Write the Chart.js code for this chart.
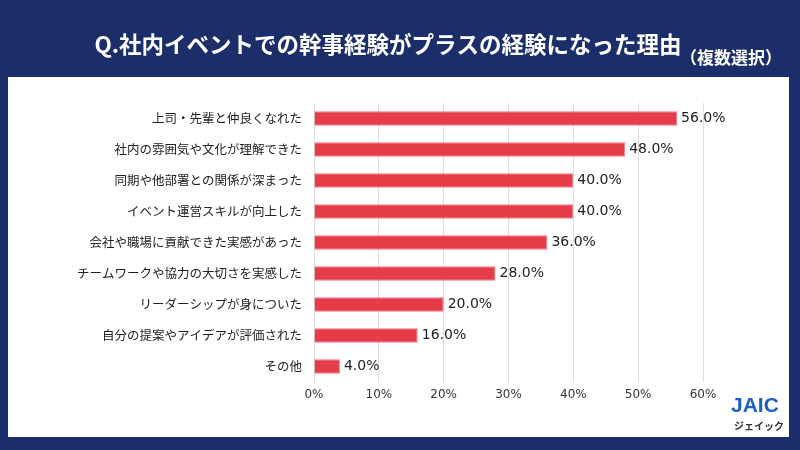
<!DOCTYPE html>
<html>
<head>
<meta charset="utf-8">
<script src="https://cdn.jsdelivr.net/npm/chart.js@4"></script>
<style>
  html, body { margin: 0; padding: 0; background: #1c2e69; }
  #wrap { width: 800px; height: 450px; }
</style>
</head>
<body>
<div id="wrap"><canvas id="reason-chart" width="800" height="450"></canvas></div>
<script>
// 理由ごとの回答割合 (%)
const reasons = [
  "上司・先輩と仲良くなれた",
  "社内の雰囲気や文化が理解できた",
  "同期や他部署との関係が深まった",
  "イベント運営スキルが向上した",
  "会社や職場に貢献できた実感があった",
  "チームワークや協力の大切さを実感した",
  "リーダーシップが身についた",
  "自分の提案やアイデアが評価された",
  "その他"
];
const shares = [56, 48, 40, 40, 36, 28, 20, 16, 4];
const xTicks = [0, 10, 20, 30, 40, 50, 60];

const FONT = "'Noto Sans CJK JP', 'Noto Sans', sans-serif";
const NUM_FONT = "'DejaVu Sans', sans-serif";

// 白いパネル・タイトル・ロゴ
const framePlugin = {
  id: "frame",
  beforeDraw(chart) {
    const { ctx } = chart;
    ctx.save();
    ctx.fillStyle = "#1c2e69";
    ctx.fillRect(0, 0, 800, 450);
    ctx.fillStyle = "#ffffff";
    ctx.fillRect(8, 77, 781, 360);
    ctx.restore();
  },
  afterDraw(chart) {
    const { ctx } = chart;
    ctx.save();
    ctx.fillStyle = "#ffffff";
    ctx.textBaseline = "middle";
    ctx.textAlign = "center";
    ctx.font = "bold 22.5px " + FONT;
    ctx.fillText("Q.社内イベントでの幹事経験がプラスの経験になった理由", 388, 44);
    ctx.textAlign = "right";
    ctx.font = "bold 17px " + FONT;
    ctx.fillText("（複数選択）", 782, 58);

    // ロゴ
    ctx.textAlign = "left";
    ctx.fillStyle = "#1f5fc4";
    ctx.font = "bold 21px 'Liberation Sans', sans-serif";
    ctx.fillText("JAIC", 731, 406);
    ctx.fillStyle = "#333333";
    ctx.font = "bold 10px " + FONT;
    ctx.fillText("ジェイック", 734, 426);
    ctx.restore();
  }
};

// バー右側の数値ラベル
const valueLabelPlugin = {
  id: "valueLabels",
  afterDatasetsDraw(chart) {
    const { ctx } = chart;
    const meta = chart.getDatasetMeta(0);
    ctx.save();
    ctx.font = "14px " + NUM_FONT;
    ctx.fillStyle = "#222222";
    ctx.textAlign = "left";
    ctx.textBaseline = "middle";
    meta.data.forEach((bar, i) => {
      ctx.fillText(shares[i].toFixed(1) + "%", bar.x + 4, bar.y);
    });
    ctx.restore();
  }
};

new Chart(document.getElementById("reason-chart"), {
  type: "bar",
  data: {
    labels: reasons,
    datasets: [{
      data: shares,
      backgroundColor: "#e63c48",
      borderColor: "#f07a82",
      borderWidth: 1,
      categoryPercentage: 1,
      barPercentage: 0.46
    }]
  },
  options: {
    indexAxis: "y",
    responsive: false,
    animation: false,
    layout: { padding: { top: 103, left: 8, right: 97, bottom: 43 } },
    plugins: {
      legend: { display: false },
      tooltip: { enabled: false }
    },
    scales: {
      x: {
        min: 0,
        max: 60,
        afterBuildTicks(axis) { axis.ticks = xTicks.map(v => ({ value: v })); },
        afterFit(axis) { axis.height = 25; },
        grid: { color: "#dddddd", drawTicks: false },
        border: { display: false },
        ticks: {
          padding: 6,
          color: "#333333",
          font: { size: 12, family: NUM_FONT },
          callback: v => v + "%"
        }
      },
      y: {
        afterFit(axis) { axis.width = 306; },
        grid: { display: false },
        border: { color: "#dddddd" },
        ticks: {
          padding: 4,
          color: "#222222",
          font: { size: 12.5, family: FONT }
        }
      }
    }
  },
  plugins: [framePlugin, valueLabelPlugin]
});
</script>
</body>
</html>
